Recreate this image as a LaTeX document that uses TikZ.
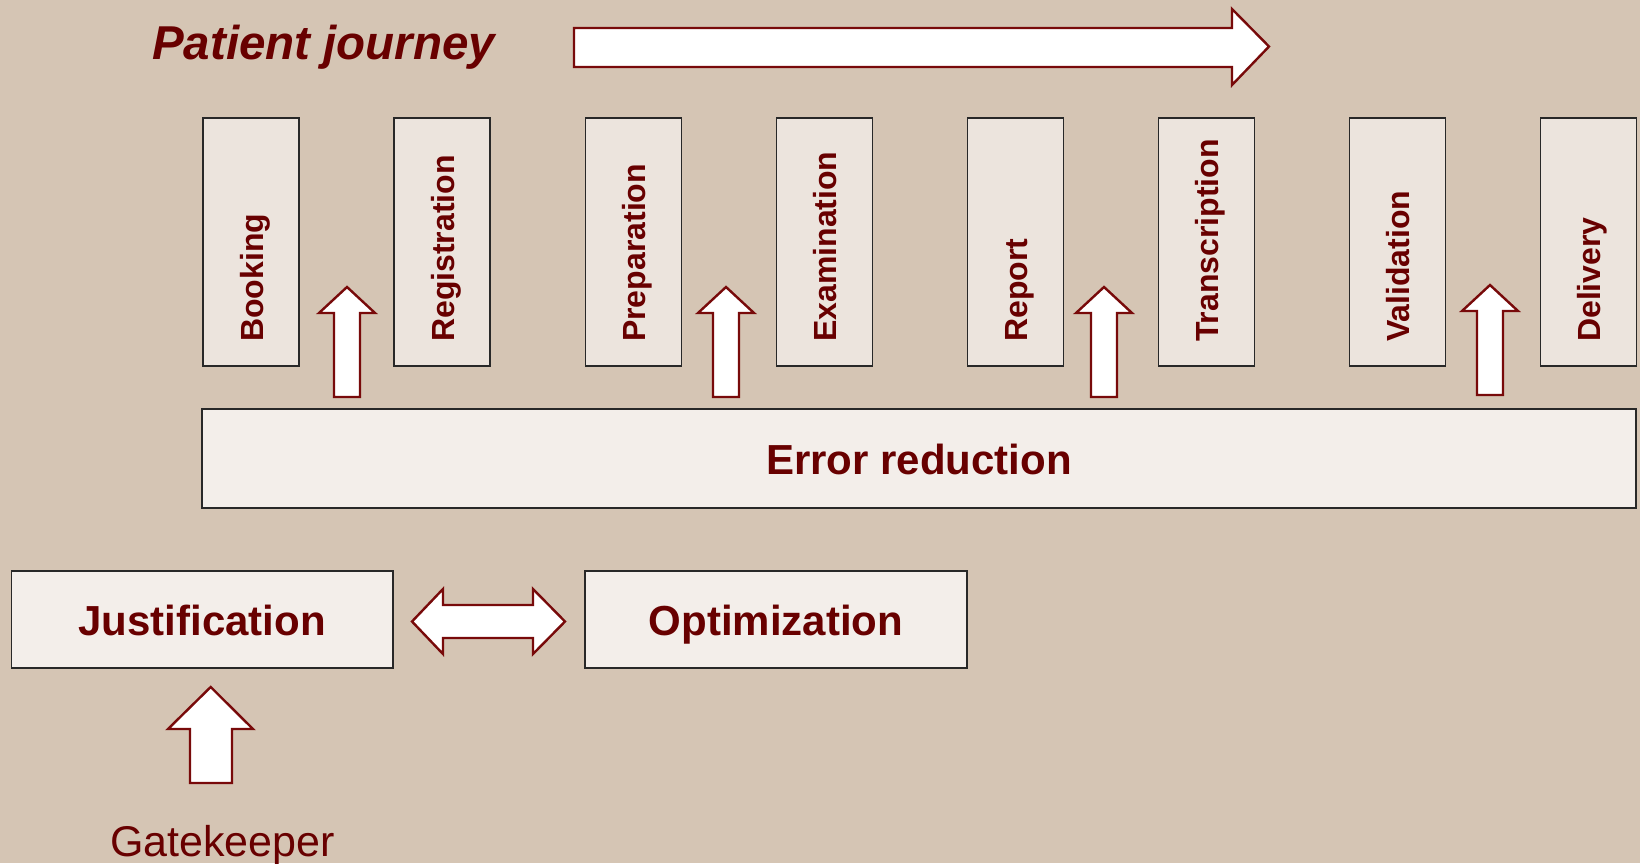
\documentclass[tikz,border=0pt]{standalone}
\usepackage{fontspec}
\setmainfont{Liberation Sans}
\definecolor{bgcol}{RGB}{213,197,180}
\definecolor{txtred}{RGB}{104,0,0}
\definecolor{arrred}{RGB}{120,10,10}
\definecolor{boxline}{RGB}{40,40,40}
\newcommand{\upblock}[4]{% cx, tip y, head base y, bottom y
  \draw[blockarrow] ({#1-13},#4) -- ({#1-13},#3) -- ({#1-28},#3) -- (#1,#2)
    -- ({#1+28},#3) -- ({#1+13},#3) -- ({#1+13},#4) -- cycle;}
\begin{document}
\begin{tikzpicture}[x=1pt,y=-1pt,
  vbox/.style={draw=boxline, line width=1.3pt, fill=white, fill opacity=0.55,
    minimum width=96pt, minimum height=248pt, inner sep=0pt},
  hbox/.style={draw=boxline, line width=1.3pt, fill=white, fill opacity=0.72,
    text opacity=1, inner sep=0pt, text height=31pt, text depth=0pt,
    text=txtred, font=\fontsize{42}{50}\selectfont\bfseries},
  vlabel/.style={rotate=90, anchor=base west, inner sep=0pt, text=txtred,
    font=\fontsize{32}{38}\selectfont\bfseries},
  blockarrow/.style={draw=arrred, line width=2.4pt, fill=white, line join=miter}
]
\useasboundingbox (0,0) rectangle (1640,863);
\fill[bgcol] (0,0) rectangle (1640,863);

% title
\node[anchor=base west, inner sep=0pt, text=txtred,
  font=\fontsize{47.5}{56}\selectfont\bfseries\itshape] (title) at (152,59) {Patient journey};
% journey arrow
\draw[blockarrow] (574,28) -- (1232,28) -- (1232,9) -- (1269,46.5) -- (1232,85)
  -- (1232,67) -- (574,67) -- cycle;

% step boxes
\foreach \cx/\nm/\lab in {251/booking/Booking, 442.1/registration/Registration,
  633.2/preparation/Preparation, 824.3/examination/Examination,
  1015.4/report/Report, 1206.5/transcription/Transcription,
  1397.6/validation/Validation, 1588.7/delivery/Delivery}{
  \node[vbox] (\nm) at (\cx,242) {};
  \node[vlabel] (\nm-t) at ({\cx+12},342) {\lab};
}

% error reduction
\node[hbox, minimum width=1434pt, minimum height=99pt] (err) at (919,458.5) {Error reduction};

% up arrows
\upblock{347}{287}{313}{397}
\upblock{726}{287}{313}{397}
\upblock{1104}{287}{313}{397}
\upblock{1490}{285}{311}{395}

% justification / optimization
\node[hbox, minimum width=381.5pt, minimum height=97pt] (just) at (202.25,619.5) {Justification};
\node[hbox, minimum width=382pt, minimum height=97pt] (opt) at (776,619.5) {Optimization};

% double arrow
\draw[blockarrow] (412,621.5) -- (443,589) -- (443,605) -- (533,605) -- (533,589)
  -- (565,621.5) -- (533,654) -- (533,638) -- (443,638) -- (443,654) -- cycle;

% gatekeeper arrow
\draw[blockarrow] (190,783) -- (190,729) -- (168,729) -- (210.7,687) -- (253,729)
  -- (232,729) -- (232,783) -- cycle;
\node[anchor=base west, inner sep=0pt, text=txtred,
  font=\fontsize{43}{50}\selectfont] (gate) at (110,856) {Gatekeeper};
\end{tikzpicture}
\end{document}
